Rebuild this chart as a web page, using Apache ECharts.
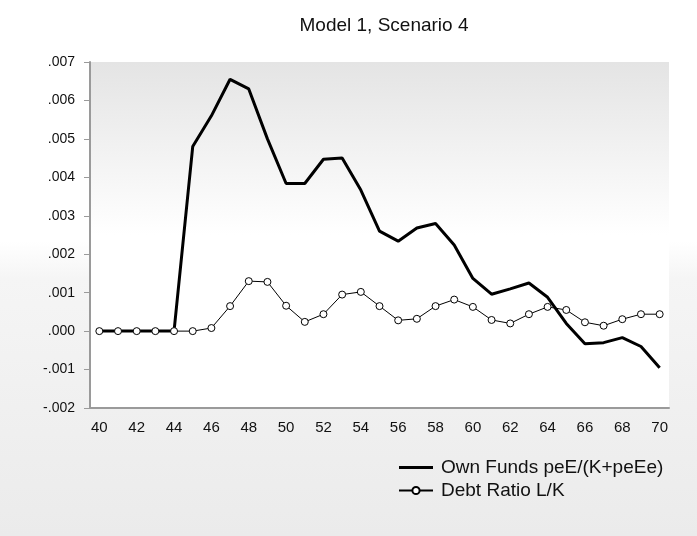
<!DOCTYPE html>
<html>
<head>
<meta charset="utf-8">
<script src="https://cdn.jsdelivr.net/npm/echarts@6/dist/echarts.min.js"></script>
<style>html,body{margin:0;padding:0;}#c{width:697px;height:536px;}</style>
</head>
<body>
<div id="c"></div>
<script>
var years = ['40','41','42','43','44','45','46','47','48','49','50','51','52','53','54','55','56','57','58','59','60','61','62','63','64','65','66','67','68','69','70'];
var ownFunds = [0,0,0,0,0,0.0048,0.0056,0.00655,0.0063,0.0050,0.00384,0.00384,0.00447,0.0045,0.00367,0.0026,0.00234,0.00268,0.0028,0.00224,0.00137,0.00096,0.0011,0.00125,0.00088,0.0002,-0.00033,-0.0003,-0.00017,-0.0004,-0.00095];
var debtRatio = [0,0,0,0,0,0,0.00008,0.00065,0.0013,0.00128,0.00066,0.00024,0.00044,0.00095,0.00102,0.00065,0.00028,0.00032,0.00065,0.00082,0.00063,0.00029,0.0002,0.00044,0.00063,0.00055,0.00023,0.00014,0.00031,0.00044,0.00044];
var seriesNames = ['Own Funds peE/(K+peEe)','Debt Ratio L/K'];
var titleText = 'Model 1, Scenario 4';

var chart = echarts.init(document.getElementById('c'), null, {renderer:'canvas'});
var font = 'Liberation Sans';
chart.setOption({
  animation:false,
  backgroundColor:{type:'linear',x:0,y:0,x2:0,y2:1,colorStops:[
    {offset:0,color:'#ffffff'},{offset:0.45,color:'#ffffff'},{offset:0.52,color:'#f5f5f5'},{offset:1,color:'#ebebeb'}]},
  title:{text:titleText,left:379,textAlign:'center',top:11,textStyle:{fontFamily:font,fontSize:19,fontWeight:'normal',color:'#111'}},
  grid:{left:90,right:28,top:62,bottom:128,show:true,borderWidth:0,
    backgroundColor:{type:'linear',x:0,y:0,x2:0,y2:1,colorStops:[
      {offset:0,color:'#e4e4e4'},{offset:0.5,color:'#ffffff'},{offset:1,color:'#ffffff'}]}},
  legend:{orient:'vertical',left:398,top:458,padding:0,itemGap:4,itemWidth:34,itemHeight:9,
    textStyle:{fontFamily:font,fontSize:19,color:'#111',padding:[0,0,0,3]},
    data:[{name:seriesNames[0],icon:'path://M0,0 L32,0 L32,3 L0,3 Z'},{name:seriesNames[1]}]},
  xAxis:{type:'category',data:years,boundaryGap:true,
    axisLine:{onZero:false,lineStyle:{color:'#9a9a9a',width:2}},
    axisTick:{interval:0,length:5,lineStyle:{color:'#9a9a9a',width:1}},
    axisLabel:{interval:1,fontFamily:font,fontSize:15,color:'#111',margin:12},
    splitLine:{show:false}},
  yAxis:{type:'value',min:-0.002,max:0.007,interval:0.001,
    axisLine:{show:true,lineStyle:{color:'#9a9a9a',width:2}},
    axisTick:{show:true,length:6,lineStyle:{color:'#9a9a9a'}},
    axisLabel:{fontFamily:font,fontSize:14,color:'#111',margin:15,
      formatter:function(v){var s=Math.abs(v).toFixed(3).replace(/^0/,'');return (v<-1e-12?'-':'')+s;}},
    splitLine:{show:false}},
  series:[
    {name:seriesNames[0],type:'line',data:ownFunds,symbol:'none',lineStyle:{color:'#000',width:3},itemStyle:{color:'#000'},z:3},
    {name:seriesNames[1],type:'line',data:debtRatio,symbol:'circle',symbolSize:7,showSymbol:true,
      lineStyle:{color:'#000',width:1},itemStyle:{color:'#fff',borderColor:'#000',borderWidth:1},z:4}
  ]
});
</script>
</body>
</html>
